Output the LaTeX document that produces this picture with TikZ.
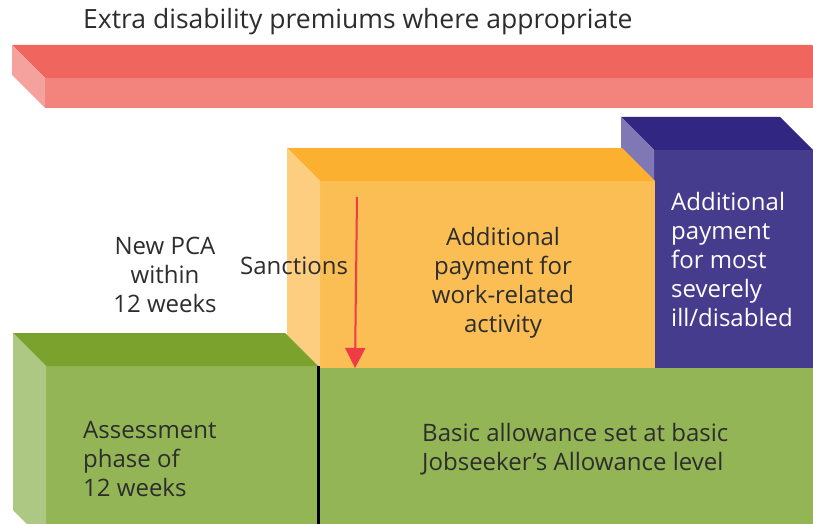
\documentclass[tikz,border=0pt]{standalone}
\usepackage{fontspec}
\setmainfont{Open Sans}
\usetikzlibrary{arrows.meta,positioning,calc}
\definecolor{premtop}  {RGB}{240,101, 94}
\definecolor{premfront}{RGB}{243,131,125}
\definecolor{premside} {RGB}{245,162,158}
\definecolor{worktop}  {RGB}{251,176, 47}
\definecolor{workfront}{RGB}{251,190, 85}
\definecolor{workside} {RGB}{253,206,128}
\definecolor{illtop}   {RGB}{ 49, 39,131}
\definecolor{illfront} {RGB}{ 70, 60,142}
\definecolor{illside}  {RGB}{127,120,181}
\definecolor{basetop}  {RGB}{122,162, 44}
\definecolor{basefront}{RGB}{147,181, 85}
\definecolor{baseside} {RGB}{173,200,130}
\definecolor{sancred}  {RGB}{238, 59, 68}
\definecolor{txtgray}  {RGB}{ 45, 45, 45}
\def\dep{33}
\tikzset{
  front/.style={rectangle,inner sep=0pt,outer sep=0pt,anchor=south west},
  lbl/.style={font=\fontsize{24}{29}\selectfont,text=txtgray,inner sep=0pt},
  lblw/.style={lbl,text=white},
  sanc/.style={-{Triangle[length=20pt,width=20pt]},line width=2pt,color=sancred},
}
% top and left faces of a block, hung on its front node
\newcommand\blockfaces[3]{%
  \fill[#2] (#1.north west) -- ++(-\dep,\dep)
    -- ($(#1.north east)+(-\dep,\dep)$) -- (#1.north east) -- cycle;
  \fill[#3] (#1.north west) -- ++(-\dep,\dep)
    -- ($(#1.south west)+(-\dep,\dep)$) -- (#1.south west) -- cycle;
}
\begin{document}
\begin{tikzpicture}[x=1pt,y=1pt]
  \clip (0,0) rectangle (813,523);
  \fill[white] (0,0) rectangle (813,523);

  % premiums bar along the top
  \node[front,fill=premfront,minimum width=800pt,minimum height=30pt] (prem) at (45,415) {};
  \blockfaces{prem}{premtop}{premside}
  \node[lbl,font=\fontsize{26.5}{29}\selectfont,anchor=west] (premtxt) at (83,501) {Extra disability premiums where appropriate};

  % support group block
  \node[front,fill=illfront,minimum width=159pt,minimum height=218pt] (ill) at (654,155) {};
  \blockfaces{ill}{illtop}{illside}

  % work-related activity block
  \node[front,fill=workfront,minimum width=335pt,minimum height=187pt] (work) at (320,155) {};
  \blockfaces{work}{worktop}{workside}

  % basic allowance
  \node[front,fill=basefront,minimum width=272pt,minimum height=177pt] (assess) at (46,-20) {};
  \blockfaces{assess}{basetop}{baseside}
  \node[front,fill=basefront,minimum width=520pt,minimum height=175pt] (basic) at (318,-20) {};
  \draw[line width=3pt,black] (assess.north east) -- (assess.south east);

  % sanctions arrow
  \coordinate (sanctop) at (357,326);
  \coordinate (sancend) at (355,155);
  \draw[sanc] (sanctop) -- (sancend);

  \node[lbl,align=center] (pca) at (165,248) {New PCA\\within\\12 weeks};
  \node[lbl,anchor=west] (sanctxt) at (240,257) {Sanctions};
  \node[lbl,align=center] (worktxt) at (503,240) {Additional\\payment for\\work-related\\activity};
  \node[lblw,align=left,anchor=west] (illtxt) at (671,264) {Additional\\payment\\for most\\severely\\ill/disabled};
  \node[lbl,align=left,anchor=west] (assesstxt) at (83,64) {Assessment\\phase of\\12 weeks};
  \node[lbl,align=left,anchor=west] (basictxt) at (422,74) {Basic allowance set at basic\\Jobseeker's Allowance level};
\end{tikzpicture}
\end{document}
